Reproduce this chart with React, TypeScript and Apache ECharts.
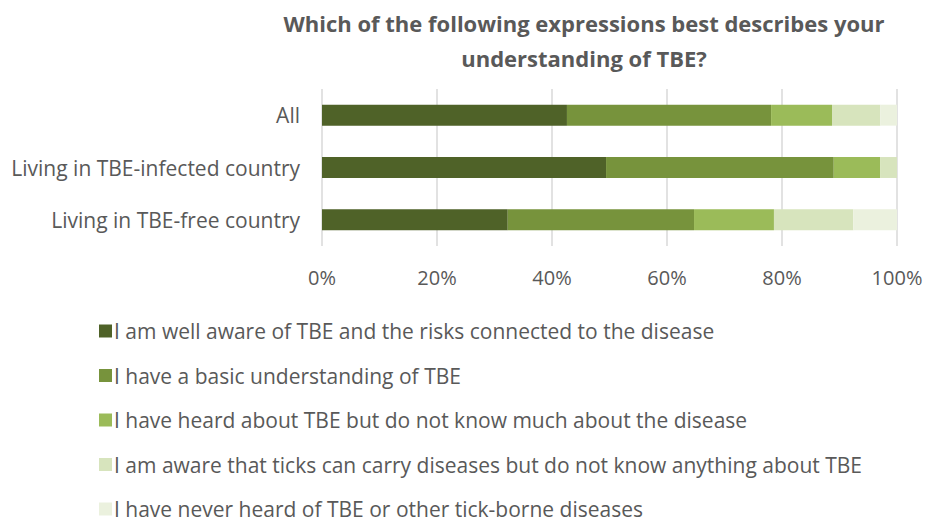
import React, { useEffect, useRef } from "react";
import * as echarts from "echarts";

const categories = ["Living in TBE-free country", "Living in TBE-infected country", "All"];

const seriesNames = [
  "I am well aware of TBE and the risks connected to the disease",
  "I have a basic understanding of TBE",
  "I have heard about TBE but do not know much about the disease",
  "I am aware that ticks can carry diseases but do not know anything about TBE",
  "I have never heard of TBE or other tick-borne diseases",
];

// Shares in percent, ordered as the categories above (free, infected, all)
const wellAware = [32.3, 49.4, 42.6];
const basicUnderstanding = [32.4, 39.6, 35.5];
const heardAbout = [13.9, 8.1, 10.6];
const ticksOnly = [13.8, 2.9, 8.4];
const neverHeard = [7.6, 0, 2.9];

const seriesValues = [wellAware, basicUnderstanding, heardAbout, ticksOnly, neverHeard];
const colors = ["#4f6228", "#77933c", "#9bbb59", "#d7e4bd", "#ebf1de"];

const xTicks = [0, 20, 40, 60, 80, 100];

const FONT = "Open Sans";
const TEXT = "#595959";

export default function App() {
  const ref = useRef<HTMLDivElement>(null);

  useEffect(() => {
    if (!ref.current) return;
    const chart = echarts.init(ref.current, undefined, { renderer: "svg" });
    chart.setOption({
      animation: false,
      backgroundColor: "#ffffff",
      title: {
        text: "Which of the following expressions best describes your\nunderstanding of TBE?",
        left: 579,
        textAlign: "center",
        top: 0,
        textStyle: {
          fontFamily: FONT,
          fontWeight: "bold",
          fontSize: 22,
          color: TEXT,
          lineHeight: 35,
        },
      },
      legend: {
        orient: "vertical",
        left: 94,
        top: 315,
        height: 207,
        itemWidth: 13,
        itemHeight: 13,
        itemGap: 22.5,
        icon: "rect",
        data: seriesNames,
        textStyle: {
          fontFamily: FONT,
          fontSize: 21,
          lineHeight: 22,
          color: TEXT,
          padding: [0, 0, 0, -3],
        },
      },
      grid: { left: 322, right: 30, top: 89, height: 157, containLabel: false },
      xAxis: {
        type: "value",
        min: 0,
        max: 100,
        interval: 20,
        axisLine: { show: false },
        axisTick: { show: false },
        splitLine: { lineStyle: { color: "#d9d9d9", width: 1.5 } },
        axisLabel: {
          fontFamily: FONT,
          fontSize: 20,
          color: TEXT,
          margin: 21,
          formatter: (v: number) => (xTicks.includes(v) ? v + "%" : ""),
        },
      },
      yAxis: {
        type: "category",
        data: categories,
        axisLine: { show: false },
        axisTick: { show: false },
        axisLabel: { fontFamily: FONT, fontSize: 21, color: TEXT, margin: 22 },
      },
      series: seriesNames.map((name, i) => ({
        name,
        type: "bar",
        stack: "total",
        barWidth: "40%",
        data: seriesValues[i],
        itemStyle: { color: colors[i] },
      })),
    });
    return () => chart.dispose();
  }, []);

  return (
    <div
      ref={ref}
      style={{ position: "fixed", left: 0, top: 0, width: 927, height: 522 }}
    />
  );
}
